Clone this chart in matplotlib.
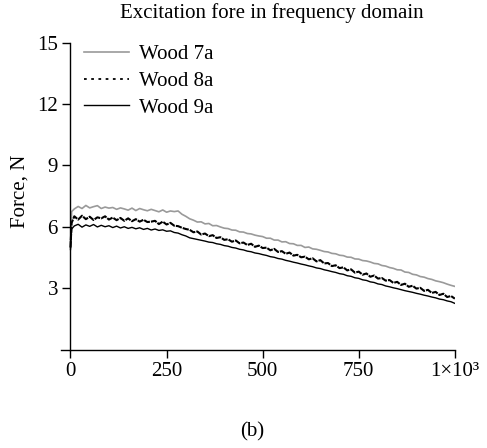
import numpy as np
import matplotlib
matplotlib.use('Agg')
import matplotlib.pyplot as plt

# frequency axis (Hz)
freq = [0, 3] + list(range(10, 1001, 10))

wood_7a = [5.0, 6.75,
    6.88, 7.0, 6.9, 7.05, 6.93, 6.99, 7.04, 6.9, 6.97, 6.92,
    6.95, 6.86, 6.93, 6.88, 6.82, 6.92, 6.8, 6.9, 6.84, 6.79,
    6.86, 6.8, 6.74, 6.83, 6.72, 6.78, 6.75, 6.78, 6.62, 6.52,
    6.4, 6.33, 6.24, 6.25, 6.15, 6.17, 6.06, 6.07, 6.0, 5.94,
    5.92, 5.85, 5.84, 5.76, 5.75, 5.68, 5.66, 5.6, 5.56, 5.53,
    5.45, 5.45, 5.36, 5.36, 5.27, 5.28, 5.19, 5.18, 5.1, 5.1,
    5.0, 5.02, 4.93, 4.91, 4.86, 4.8, 4.78, 4.71, 4.69, 4.62,
    4.6, 4.53, 4.52, 4.44, 4.43, 4.36, 4.34, 4.29, 4.22, 4.2,
    4.12, 4.09, 4.02, 3.98, 3.91, 3.9, 3.8, 3.78, 3.69, 3.66,
    3.58, 3.55, 3.48, 3.44, 3.37, 3.33, 3.28, 3.21, 3.15, 3.1]

wood_8a = [5.0, 6.2,
    6.52, 6.36, 6.55, 6.38, 6.5, 6.34, 6.47, 6.42, 6.52, 6.36,
    6.46, 6.33, 6.44, 6.3, 6.42, 6.28, 6.38, 6.26, 6.35, 6.24,
    6.26, 6.3, 6.14, 6.26, 6.12, 6.2, 6.06, 6.04, 5.96, 5.9,
    5.86, 5.74, 5.78, 5.63, 5.68, 5.55, 5.6, 5.46, 5.5, 5.37,
    5.4, 5.28, 5.34, 5.2, 5.24, 5.12, 5.18, 5.03, 5.09, 4.97,
    4.99, 4.86, 4.93, 4.78, 4.82, 4.69, 4.75, 4.6, 4.64, 4.52,
    4.55, 4.42, 4.47, 4.32, 4.38, 4.22, 4.24, 4.09, 4.13, 3.99,
    4.03, 3.88, 3.93, 3.77, 3.82, 3.67, 3.73, 3.57, 3.63, 3.48,
    3.51, 3.38, 3.41, 3.27, 3.32, 3.17, 3.23, 3.08, 3.13, 2.99,
    3.03, 2.88, 2.93, 2.78, 2.83, 2.68, 2.74, 2.58, 2.63, 2.5]

wood_9a = [4.9, 5.9,
    6.05, 6.13, 5.99, 6.1, 6.03, 6.12, 6.0, 6.08, 6.01, 6.06,
    5.97, 6.04, 5.95, 6.01, 5.93, 5.98, 5.91, 5.96, 5.88, 5.93,
    5.85, 5.9, 5.83, 5.86, 5.79, 5.81, 5.73, 5.7, 5.62, 5.56,
    5.47, 5.43, 5.39, 5.35, 5.31, 5.26, 5.24, 5.18, 5.15, 5.09,
    5.06, 5.0, 4.97, 4.91, 4.88, 4.82, 4.79, 4.73, 4.7, 4.65,
    4.61, 4.55, 4.52, 4.46, 4.43, 4.37, 4.33, 4.28, 4.24, 4.19,
    4.15, 4.1, 4.06, 4.0, 3.97, 3.91, 3.87, 3.82, 3.78, 3.72,
    3.69, 3.62, 3.59, 3.52, 3.49, 3.42, 3.39, 3.32, 3.29, 3.22,
    3.19, 3.12, 3.08, 3.03, 2.99, 2.94, 2.89, 2.85, 2.81, 2.76,
    2.72, 2.67, 2.63, 2.58, 2.54, 2.48, 2.45, 2.39, 2.35, 2.27]

xticks = [0, 250, 500, 750, 1000]
xticklabels = ['0', '250', '500', '750', '1×10³']
yticks = [3, 6, 9, 12, 15]

plt.rcParams['font.family'] = ['Liberation Serif', 'DejaVu Serif']
FS = 15

fig = plt.figure(figsize=(4.87, 4.48), dpi=100)
ax = fig.add_axes([0.125, 0.219, 0.809, 0.686])

ax.plot(freq, wood_7a, color='#9a9a9a', lw=1.2, label='Wood 7a')
ax.plot(freq, wood_8a, color='black', lw=1.5, ls=(0, (3, 0.5)), label='Wood 8a')
ax.plot(freq, wood_9a, color='black', lw=1.0, label='Wood 9a')

ax.set_xlim(-25, 1000)
ax.set_ylim(0, 15)
ax.set_xticks(xticks)
ax.set_xticklabels(xticklabels)
ax.set_yticks(yticks)
ax.tick_params(labelsize=FS, length=6, width=1, direction='out', pad=3)
for s in ['top', 'right']:
    ax.spines[s].set_visible(False)
ax.spines['left'].set_position(('data', 0))
ax.spines['left'].set_bounds(0, 15)
ax.spines['left'].set_linewidth(1)
ax.spines['bottom'].set_linewidth(1)

ax.set_ylabel('Force, N', fontsize=FS)
ax.yaxis.set_label_coords(-0.079, 0.516)

leg = ax.legend(loc='upper left', bbox_to_anchor=(0.01, 1.055), frameon=False,
                fontsize=FS, handlelength=2.2, handletextpad=0.45, labelspacing=0.35)
leg.get_lines()[1].set_linestyle((0, (1.5, 2.5)))
leg.get_lines()[1].set_linewidth(1.3)

fig.text(0.558, 0.97, 'Excitation fore in frequency domain', ha='center', va='center', fontsize=FS)
fig.text(0.517, 0.037, '(b)', ha='center', va='center', fontsize=FS)

fig.savefig('out.png', dpi=100)
